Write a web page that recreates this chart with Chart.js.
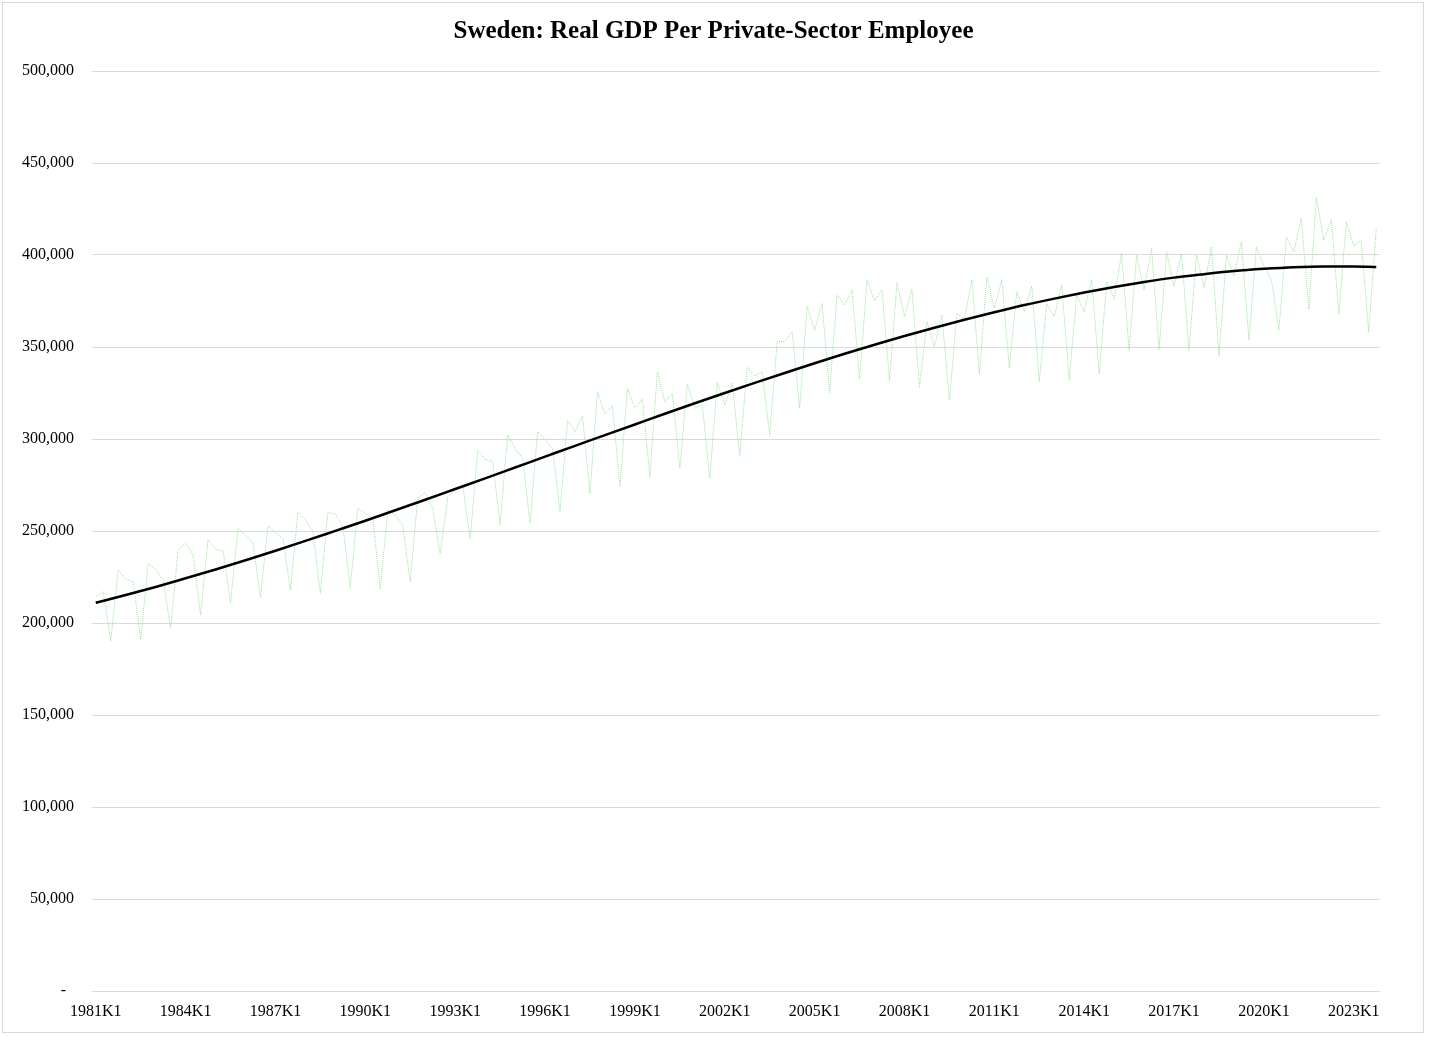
<!DOCTYPE html>
<html>
<head>
<meta charset="utf-8">
<script src="https://cdn.jsdelivr.net/npm/chart.js@4/dist/chart.umd.min.js"></script>
<style>
html,body{margin:0;padding:0;background:#fff;}
#wrap{position:absolute;left:0;top:0;width:1429px;height:1037px;}
</style>
</head>
<body>
<div id="wrap"><canvas id="c" width="1429" height="1037"></canvas></div>
<script>
const chartTitle = 'Sweden: Real GDP Per Private-Sector Employee';
const firstYear = 1981;
const lastYear = 2023;
const quartersPerYear = 4;

// Real GDP per private-sector employee, quarterly 1981K1..2023K4 (thousands)
const gdpPerEmployee = [
  214.3, 217.0, 190.4, 228.8,
  223.7, 222.5, 191.1, 232.0,
  229.2, 223.4, 197.1, 239.7,
  243.3, 237.0, 204.3, 245.5,
  240.0, 239.3, 211.0, 251.4,
  247.8, 243.3, 214.0, 252.7,
  249.0, 246.0, 218.0, 260.0,
  256.0, 249.6, 216.0, 260.0,
  259.2, 252.3, 219.4, 262.3,
  259.6, 256.9, 218.3, 261.4,
  258.7, 253.3, 222.5, 267.8,
  270.8, 262.3, 237.5, 268.6,
  272.3, 275.0, 245.5, 293.6,
  289.0, 287.7, 253.3, 302.2,
  295.0, 289.5, 254.2, 304.0,
  299.5, 295.0, 260.5, 310.0,
  304.0, 312.5, 270.5, 325.7,
  313.6, 318.0, 274.1, 327.5,
  316.7, 321.6, 279.5, 336.6,
  320.3, 324.5, 284.0, 329.9,
  316.7, 318.5, 278.6, 330.6,
  318.5, 330.3, 291.0, 339.0,
  334.2, 336.6, 302.0, 352.9,
  352.9, 358.3, 316.7, 371.9,
  359.2, 373.7, 325.2, 378.3,
  372.8, 381.0, 332.4, 386.4,
  375.2, 381.0, 332.0, 385.0,
  366.5, 381.4, 328.0, 363.8,
  350.2, 367.4, 320.8, 368.3,
  365.0, 386.8, 335.3, 387.9,
  371.0, 386.8, 338.4, 380.0,
  369.2, 383.2, 331.2, 373.4,
  366.5, 383.7, 332.1, 378.3,
  369.2, 386.8, 335.3, 385.5,
  375.9, 400.9, 348.0, 400.0,
  381.0, 403.6, 348.4, 401.8,
  382.8, 400.5, 348.0, 400.0,
  382.4, 404.5, 345.1, 400.0,
  388.6, 407.2, 353.8, 404.5,
  394.0, 386.4, 359.2, 409.6,
  401.8, 419.9, 370.5, 431.3,
  407.8, 419.4, 367.9, 418.1,
  404.9, 407.8, 358.3, 414.0
];

const trendLabels = [
  '1981K1','1982K1','1983K1','1984K1','1985K1','1986K1','1987K1','1988K1','1989K1','1990K1',
  '1991K1','1992K1','1993K1','1994K1','1995K1','1996K1','1997K1','1998K1','1999K1','2000K1',
  '2001K1','2002K1','2003K1','2004K1','2005K1','2006K1','2007K1','2008K1','2009K1','2010K1',
  '2011K1','2012K1','2013K1','2014K1','2015K1','2016K1','2017K1','2018K1','2019K1','2020K1',
  '2021K1','2022K1','2023K1','2023K4'
];
const trendValues = [
  211.0, 215.2, 219.6, 224.3, 229.1, 234.1, 239.3, 244.6, 250.1, 255.6,
  261.3, 267.0, 272.8, 278.6, 284.5, 290.4, 296.3, 302.1, 307.9, 313.7,
  319.4, 325.0, 330.5, 335.9, 341.2, 346.3, 351.2, 356.0, 360.5, 364.8,
  368.9, 372.8, 376.3, 379.6, 382.6, 385.3, 387.7, 389.6, 391.3, 392.5,
  393.4, 393.8, 393.8, 393.5
];

const yTicksMin = 0;
const yTicksMax = 500000;
const yTickStep = 50000;
const xLabelEvery = 12;

const quarterLabels = [];
for (let y = firstYear; y <= lastYear; y++) {
  for (let q = 1; q <= quartersPerYear; q++) quarterLabels.push(y + 'K' + q);
}
const seriesData = gdpPerEmployee.map(v => v * 1000);
const trendData = trendLabels.map((l, i) => ({ x: l, y: trendValues[i] * 1000 }));

const serif = "'Liberation Serif', 'Times New Roman', serif";

const borderPlugin = {
  id: 'outerBorder',
  afterDraw(chart) {
    const ctx = chart.ctx;
    ctx.save();
    ctx.strokeStyle = '#d9d9d9';
    ctx.lineWidth = 1;
    ctx.strokeRect(2.5, 2.5, 1421, 1030);
    ctx.restore();
  }
};

new Chart(document.getElementById('c'), {
  type: 'line',
  data: {
    labels: quarterLabels,
    datasets: [
      {
        label: 'GDP per private-sector employee',
        data: seriesData,
        borderColor: 'rgb(150, 228, 150)',
        borderWidth: 1,
        borderDash: [1, 1],
        pointRadius: 0,
        tension: 0,
        fill: false,
        order: 2
      },
      {
        label: 'Trend',
        data: trendData,
        borderColor: '#000000',
        borderWidth: 2.5,
        pointRadius: 0,
        cubicInterpolationMode: 'monotone',
        fill: false,
        order: 1
      }
    ]
  },
  plugins: [borderPlugin],
  options: {
    responsive: false,
    animation: false,
    devicePixelRatio: 1,
    layout: { padding: { left: 0, right: 2, top: 0, bottom: 6 } },
    plugins: {
      legend: { display: false },
      tooltip: { enabled: false },
      title: {
        display: true,
        text: chartTitle,
        color: '#000',
        font: { family: serif, size: 25, weight: 'bold' },
        padding: { top: 17, bottom: 24 }
      }
    },
    scales: {
      x: {
        type: 'category',
        offset: true,
        grid: { display: false, drawTicks: false },
        border: { display: false },
        ticks: {
          autoSkip: false,
          maxRotation: 0,
          minRotation: 0,
          padding: 11,
          color: '#000',
          font: { family: serif, size: 16 },
          callback: function (val, idx) {
            return idx % xLabelEvery === 0 ? quarterLabels[idx] : '';
          }
        },
        afterFit: function (s) { s.height = 40; }
      },
      y: {
        min: yTicksMin,
        max: yTicksMax,
        grid: { color: '#d9d9d9', lineWidth: 1, drawTicks: false },
        border: { display: false },
        ticks: {
          stepSize: yTickStep,
          padding: 18,
          color: '#000',
          font: { family: serif, size: 16 },
          callback: function (v) {
            if (v === 0) return '-  ';
            return v.toLocaleString('en-US');
          }
        },
        afterFit: function (s) { s.width = 92; }
      },
      ySpacer: {
        position: 'right',
        min: yTicksMin,
        max: yTicksMax,
        grid: { display: false, drawTicks: false },
        border: { display: false },
        ticks: { display: false },
        afterFit: function (s) { s.width = 47; }
      }
    }
  }
});
</script>
</body>
</html>
